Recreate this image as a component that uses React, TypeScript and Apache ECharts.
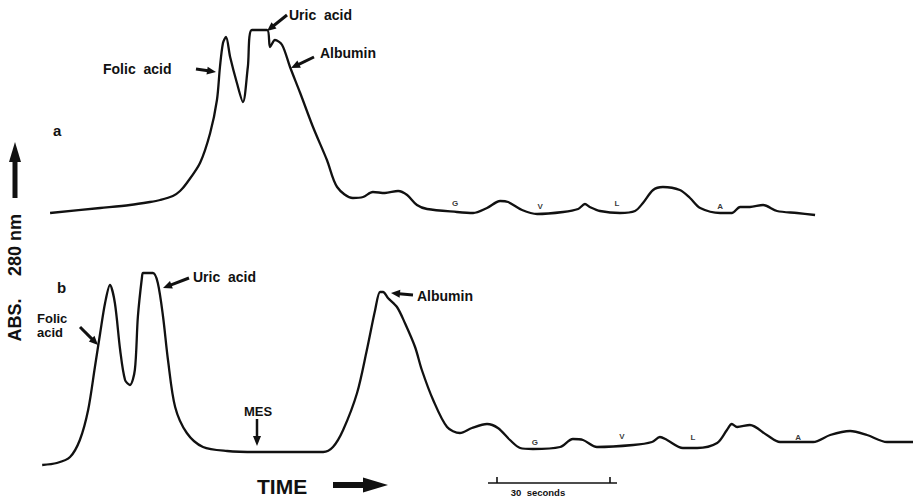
import React, { useEffect, useRef } from "react";
import * as echarts from "echarts";

// Trace a: [time (s), absorbance (rel.)]
const traceA: [number, number][] = [
  [13.3, 0.0], [26.6, 0.05], [34.5, 0.08], [39.8, 0.11], [42.5, 0.13], [45.9, 0.17],
  [47.8, 0.22], [49.6, 0.3], [53.1, 0.5], [55.8, 0.8], [57.6, 1.13], [58.4, 1.46],
  [59.2, 1.7], [60.0, 1.76], [61.1, 1.56], [62.9, 1.3], [64.5, 1.11], [65.8, 1.46],
  [66.9, 1.83], [70.9, 1.83], [71.7, 1.66], [73.0, 1.73], [74.9, 1.68], [77.0, 1.46],
  [79.7, 1.2], [83.1, 0.86], [86.8, 0.53], [89.5, 0.26], [93.7, 0.15], [96.4, 0.16],
  [99.0, 0.21], [102.2, 0.2], [105.7, 0.22], [108.1, 0.18], [110.7, 0.08], [113.4, 0.04],
  [121.3, 0.01], [125.6, 0.0], [129.3, 0.05], [132.8, 0.12], [134.9, 0.11], [138.6, 0.03],
  [142.6, -0.01], [149.5, 0.01], [153.5, 0.04], [155.3, 0.09], [156.6, 0.06], [159.3, 0.02],
  [164.6, 0.0], [168.6, 0.02], [170.7, 0.1], [173.4, 0.23], [176.0, 0.26], [180.5, 0.23],
  [183.2, 0.15], [185.9, 0.05], [191.2, 0.0], [194.3, 0.0], [196.5, 0.06], [199.1, 0.06],
  [202.6, 0.08], [206.3, 0.02], [211.6, 0.0], [216.4, -0.02],
];

// Trace b: [time (s), absorbance (rel.)]
const traceB: [number, number][] = [
  [11.2, 0.0], [15.1, 0.02], [18.6, 0.08], [21.2, 0.25], [23.4, 0.55], [25.2, 0.98],
  [26.6, 1.32], [27.9, 1.62], [29.2, 1.8], [30.5, 1.62], [31.9, 1.15], [33.2, 0.85],
  [34.5, 0.8], [35.8, 0.95], [36.6, 1.48], [37.7, 1.88], [38.0, 1.92], [40.6, 1.92],
  [41.9, 1.82], [43.3, 1.48], [44.6, 1.05], [46.5, 0.58], [49.6, 0.32], [53.9, 0.18],
  [60.3, 0.14], [68.2, 0.13], [73.5, 0.13], [85.8, 0.13], [88.4, 0.18], [91.1, 0.35],
  [94.8, 0.72], [97.4, 1.15], [99.6, 1.55], [100.9, 1.73], [101.7, 1.73], [103.0, 1.67],
  [105.4, 1.58], [107.5, 1.42], [110.2, 1.18], [112.0, 0.95], [115.0, 0.65], [118.7, 0.38],
  [122.1, 0.32], [125.3, 0.37], [129.3, 0.41], [132.2, 0.37], [135.4, 0.25], [138.1, 0.17],
  [141.5, 0.16], [148.7, 0.18], [152.1, 0.26], [154.8, 0.25], [158.5, 0.18], [168.1, 0.2],
  [173.1, 0.23], [175.2, 0.28], [177.1, 0.25], [181.3, 0.17], [185.1, 0.17], [190.4, 0.22],
  [193.0, 0.35], [194.3, 0.41], [195.7, 0.38], [199.1, 0.4], [203.6, 0.3], [207.1, 0.23],
  [215.9, 0.23], [220.4, 0.3], [225.7, 0.34], [230.2, 0.3], [235.5, 0.23], [242.4, 0.23],
];

// Amino acid peak letters
const aminoNames = ["G", "V", "L", "A"];
const aminoPosA: [number, number][] = [[120.8, 0.1], [143.4, 0.07], [163.8, 0.1], [191.2, 0.07]];
const aminoPosB: [number, number][] = [[142.0, 0.23], [165.1, 0.29], [184.0, 0.28], [211.9, 0.28]];

const FONT = "'Liberation Sans', Arial, Helvetica, sans-serif";
const INK = "#111";

function arrow(tail: [number, number], tip: [number, number], shaft: number, headLen: number, headW: number) {
  const dx = tip[0] - tail[0];
  const dy = tip[1] - tail[1];
  const len = Math.sqrt(dx * dx + dy * dy);
  const ux = dx / len;
  const uy = dy / len;
  const bx = tip[0] - ux * headLen;
  const by = tip[1] - uy * headLen;
  const px = -uy;
  const py = ux;
  return {
    type: "group",
    children: [
      {
        type: "line",
        shape: { x1: tail[0], y1: tail[1], x2: bx + ux * 1, y2: by + uy * 1 },
        style: { stroke: INK, lineWidth: shaft },
      },
      {
        type: "polygon",
        shape: {
          points: [
            [tip[0], tip[1]],
            [bx + px * headW / 2, by + py * headW / 2],
            [bx - px * headW / 2, by - py * headW / 2],
          ],
        },
        style: { fill: INK },
      },
    ],
  };
}

function txt(text: string, x: number, y: number, size: number, extra: any = {}) {
  return {
    type: "text",
    x,
    y,
    style: {
      text,
      fill: INK,
      font: `bold ${size}px ${FONT}`,
      align: "left",
      verticalAlign: "middle",
      ...extra,
    },
  };
}

export default function App() {
  const ref = useRef<HTMLDivElement>(null);

  useEffect(() => {
    if (!ref.current) return;
    const chart = echarts.init(ref.current, undefined, { renderer: "svg" });

    const letterSeries = (pos: [number, number][], idx: number) => ({
      type: "scatter",
      xAxisIndex: idx,
      yAxisIndex: idx,
      symbolSize: 1,
      silent: true,
      itemStyle: { color: "rgba(0,0,0,0)" },
      data: pos.map((p, i) => ({ value: p, name: aminoNames[i] })),
      label: {
        show: true,
        position: "inside",
        formatter: (p: any) => p.name,
        color: "#000",
        fontSize: 8,
        fontWeight: "bold",
        fontFamily: FONT,
      },
    });

    const graphics: any[] = [
      // trace a annotations
      txt("a", 53, 130, 15),
      txt("Folic  acid", 103, 69, 14),
      arrow([196, 69], [216, 72], 3, 9, 8),
      txt("Uric  acid", 289, 15, 14),
      arrow([287, 15], [267, 31], 3, 9, 8),
      txt("Albumin", 320, 53, 14),
      arrow([314, 57], [291, 68], 3, 9, 8),
      // trace b annotations
      txt("b", 57, 287, 15),
      txt("Folic\nacid", 37, 325, 13, { lineHeight: 14 }),
      arrow([80, 327], [98, 345], 3, 9, 8),
      txt("Uric  acid", 193, 277, 14),
      arrow([189, 278], [163, 288], 3, 9, 8),
      txt("Albumin", 417, 296, 14),
      arrow([413, 295], [391, 293], 3, 9, 8),
      txt("MES", 258, 411, 13, { align: "center" }),
      arrow([257, 419], [257, 446], 2.5, 10, 8),
      // axis labels
      txt("TIME", 257, 486, 21, { letterSpacing: 1 }),
      arrow([333, 485], [388, 485], 6, 25, 15),
      {
        type: "text",
        x: 15,
        y: 245,
        rotation: Math.PI / 2,
        style: { text: "280 nm", fill: INK, font: `bold 18px ${FONT}`, align: "center", verticalAlign: "middle" },
      },
      {
        type: "text",
        x: 15,
        y: 320,
        rotation: Math.PI / 2,
        style: { text: "ABS.", fill: INK, font: `bold 18px ${FONT}`, align: "center", verticalAlign: "middle" },
      },
      arrow([15, 198], [15, 142], 5, 20, 12),
      // 30 s scale bar
      { type: "line", shape: { x1: 488, y1: 483, x2: 617, y2: 483 }, style: { stroke: INK, lineWidth: 1.6 } },
      { type: "line", shape: { x1: 497, y1: 477, x2: 497, y2: 483 }, style: { stroke: INK, lineWidth: 1.6 } },
      { type: "line", shape: { x1: 610, y1: 477, x2: 610, y2: 483 }, style: { stroke: INK, lineWidth: 1.6 } },
      txt("30  seconds", 538, 492, 9.5, { align: "center", letterSpacing: 0.6 }),
    ];

    chart.setOption({
      animation: false,
      backgroundColor: "#fff",
      grid: [
        { left: 0, right: 0, top: 13, height: 220 },
        { left: 0, right: 0, top: 265, height: 220 },
      ],
      xAxis: [0, 1].map((i) => ({
        type: "value",
        gridIndex: i,
        min: 0,
        max: 242.4,
        show: false,
      })),
      yAxis: [0, 1].map((i) => ({
        type: "value",
        gridIndex: i,
        min: -0.2,
        max: 2,
        show: false,
      })),
      series: [
        {
          type: "line",
          xAxisIndex: 0,
          yAxisIndex: 0,
          data: traceA,
          showSymbol: false,
          smooth: 0.3,
          clip: false,
          lineStyle: { color: INK, width: 2.3 },
          silent: true,
        },
        {
          type: "line",
          xAxisIndex: 1,
          yAxisIndex: 1,
          data: traceB,
          showSymbol: false,
          smooth: 0.3,
          clip: false,
          lineStyle: { color: INK, width: 2.3 },
          silent: true,
        },
        letterSeries(aminoPosA, 0),
        letterSeries(aminoPosB, 1),
      ],
      graphic: graphics,
    });

    return () => chart.dispose();
  }, []);

  return (
    <div
      ref={ref}
      style={{ position: "fixed", left: 0, top: 0, width: 913, height: 499, background: "#fff" }}
    />
  );
}
